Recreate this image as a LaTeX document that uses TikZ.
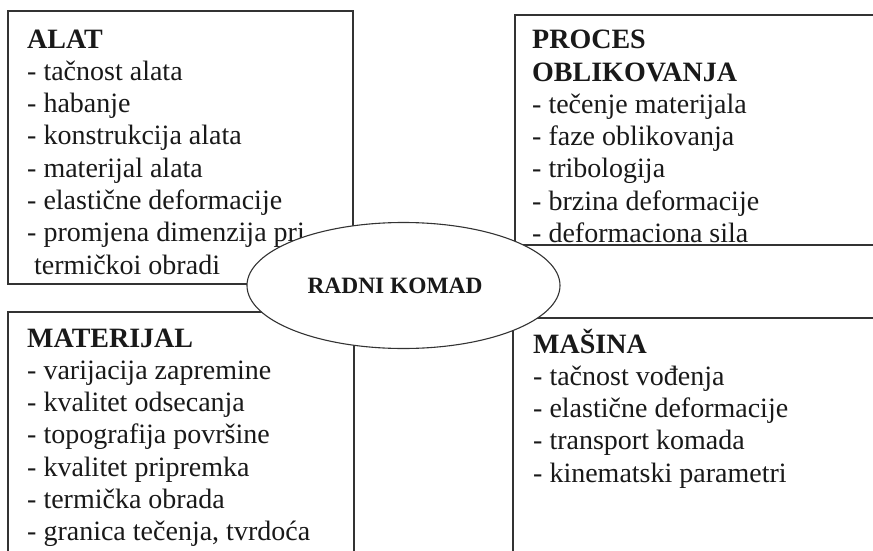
\documentclass[tikz,border=0pt]{standalone}
\usepackage{fontspec}
\setmainfont{Liberation Serif}
\usetikzlibrary{%
  shapes,% wg. ellipse
  positioning%
}
\tikzset{
  okvir/.style={draw=black!80,line width=1.1pt},
  stavke/.style={anchor=base west,inner sep=0,align=left,text=black!90,
    font=\fontsize{28}{32.3}\selectfont},
}

\begin{document}
\begin{tikzpicture}[x=1pt,y=-1pt]
      \useasboundingbox (0,0) rectangle (873,551);
      \clip (0,0) rectangle (873,551);

      % okviri, desni i donji su odsjeceni
      \path [okvir] (8,11) rectangle (353,284);
      \path [okvir] (890,15) -- (515,15) -- (515,245) -- (890,245);
      \path [okvir] (8,570) -- (8,312) -- (354,312) -- (354,570);
      \path [okvir] (890,318) -- (513,318) -- (513,570);

      % base = zadnji red
      \node[stavke] (alat) at (27,274.1) {\textbf{ALAT}\\
        - tačnost alata\\- habanje\\- konstrukcija alata\\- materijal alata\\
        - elastične deformacije\\- promjena dimenzija pri\\
        \hspace*{7pt}termičkoi obradi};
      \node[stavke] (proces) at (532,242.5) {\textbf{PROCES}\\\textbf{OBLIKOVANJA}\\
        - tečenje materijala\\- faze oblikovanja\\- tribologija\\
        - brzina deformacije\\- deformaciona sila};
      \node[stavke] (materijal) at (27,540.8) {\textbf{MATERIJAL}\\
        - varijacija zapremine\\- kvalitet odsecanja\\- topografija površine\\
        - kvalitet pripremka\\- termička obrada\\- granica tečenja, tvrdoća};
      \node[stavke] (masina) at (533,482.2) {\textbf{MAŠINA}\\
        - tačnost vođenja\\- elastične deformacije\\- transport komada\\
        - kinematski parametri};

      \node[okvir,ellipse,fill=white,minimum width=313pt,minimum height=126pt,
        inner sep=0,font=\fontsize{23.4}{28}\selectfont\bfseries,text=black!90]
        (komad) at (403.5,285.5) {RADNI KOMAD\hspace*{17pt}};
\end{tikzpicture}
\end{document}
